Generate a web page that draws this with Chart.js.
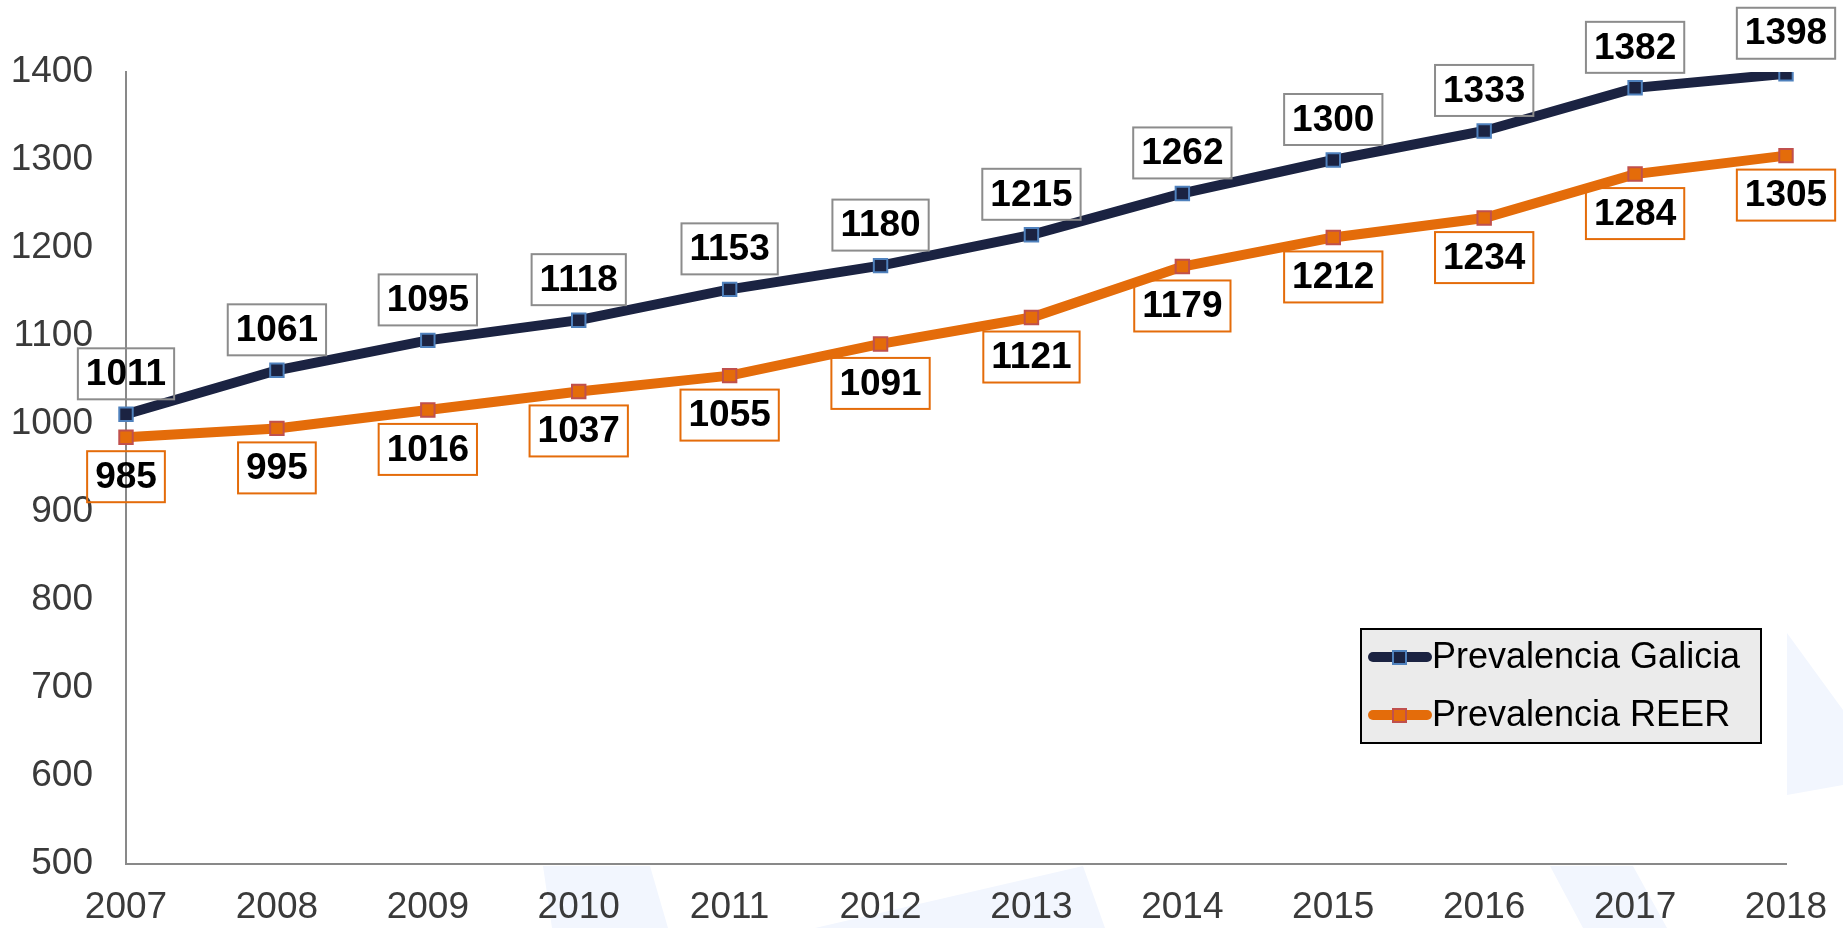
<!DOCTYPE html>
<html>
<head>
<meta charset="utf-8">
<script src="https://cdn.jsdelivr.net/npm/chart.js@4/dist/chart.umd.min.js"></script>
<style>
  html, body { margin: 0; padding: 0; background: #fff; }
  #chart { display: block; }
</style>
</head>
<body>
<canvas id="chart" width="1843" height="928"></canvas>
<script>
// Données
const years = ['2007', '2008', '2009', '2010', '2011', '2012', '2013', '2014', '2015', '2016', '2017', '2018'];
const galicia = [1011, 1061, 1095, 1118, 1153, 1180, 1215, 1262, 1300, 1333, 1382, 1398];
const reer = [985, 995, 1016, 1037, 1055, 1091, 1121, 1179, 1212, 1234, 1284, 1305];
const seriesNames = ['Prevalencia Galicia', 'Prevalencia REER'];
const yMin = 500;
const yMax = 1400;
const yStep = 100;

const navy = '#1B2342';
const orange = '#E46C0A';
const fontFamily = '"Liberation Sans", Arial, sans-serif';

// fond : filigrane bleu très clair
const watermark = {
    id: 'watermark',
    beforeDraw(chart) {
        const ctx = chart.ctx;
        const shapes = [
            [[1787, 633], [1843, 710], [1843, 785], [1787, 795]],
            [[543, 866], [650, 866], [668, 928], [552, 928]],
            [[1083, 866], [1105, 928], [815, 928]],
            [[1550, 866], [1633, 866], [1667, 928], [1583, 928]],
        ];
        ctx.save();
        ctx.fillStyle = '#F2F6FE';
        shapes.forEach(pts => {
            ctx.beginPath();
            pts.forEach(([x, y], i) => i ? ctx.lineTo(x, y) : ctx.moveTo(x, y));
            ctx.closePath();
            ctx.fill();
        });
        ctx.restore();
    }
};

// étiquettes encadrées au-dessus / en dessous des points
const boxedLabels = {
    id: 'boxedLabels',
    afterDatasetsDraw(chart) {
        const ctx = chart.ctx;
        ctx.save();
        ctx.font = 'bold 37px ' + fontFamily;
        ctx.textAlign = 'center';
        ctx.textBaseline = 'middle';
        chart.data.datasets.forEach((ds, di) => {
            const meta = chart.getDatasetMeta(di);
            const above = di === 0;
            meta.data.forEach((pt, i) => {
                const txt = String(ds.data[i]);
                const w = ctx.measureText(txt).width + 16;
                const h = 51;
                const top = above ? pt.y - 15 - h : pt.y + 14;
                ctx.lineWidth = 2;
                ctx.strokeStyle = above ? '#8C8C8C' : orange;
                ctx.strokeRect(pt.x - w / 2, top, w, h);
                ctx.fillStyle = '#000';
                ctx.fillText(txt, pt.x, top + h / 2 + 1);
            });
        });
        ctx.restore();
    }
};

// légende dans la zone du graphique
const boxLegend = {
    id: 'boxLegend',
    afterDraw(chart) {
        const ctx = chart.ctx;
        const x0 = 1361, y0 = 629, w = 400, h = 114;
        ctx.save();
        ctx.fillStyle = '#EBEBEB';
        ctx.fillRect(x0, y0, w, h);
        ctx.lineWidth = 2;
        ctx.strokeStyle = '#000';
        ctx.strokeRect(x0, y0, w, h);
        ctx.font = '36px ' + fontFamily;
        ctx.textBaseline = 'middle';
        chart.data.datasets.forEach((ds, i) => {
            const y = y0 + 28 + i * 58;
            ctx.lineCap = 'round';
            ctx.lineWidth = 10;
            ctx.strokeStyle = ds.borderColor;
            ctx.beginPath();
            ctx.moveTo(x0 + 12, y);
            ctx.lineTo(x0 + 66, y);
            ctx.stroke();
            ctx.fillStyle = ds.pointBackgroundColor;
            ctx.fillRect(x0 + 32, y - 6, 13, 13);
            ctx.lineWidth = 2;
            ctx.strokeStyle = ds.pointBorderColor;
            ctx.strokeRect(x0 + 32, y - 6, 13, 13);
            ctx.fillStyle = '#000';
            ctx.fillText(ds.label, x0 + 71, y + 1);
        });
        ctx.restore();
    }
};

new Chart(document.getElementById('chart'), {
    type: 'line',
    data: {
        labels: years,
        datasets: [{
            label: seriesNames[0],
            data: galicia,
            borderColor: navy,
            borderWidth: 10,
            pointStyle: 'rect',
            pointRadius: 9.5,
            pointBackgroundColor: navy,
            pointBorderColor: '#4F81BD',
            pointBorderWidth: 2,
            tension: 0,
        }, {
            label: seriesNames[1],
            data: reer,
            borderColor: orange,
            borderWidth: 10,
            pointStyle: 'rect',
            pointRadius: 9.5,
            pointBackgroundColor: orange,
            pointBorderColor: '#C0504D',
            pointBorderWidth: 2,
            tension: 0,
        }],
    },
    options: {
        responsive: false,
        animation: false,
        layout: { padding: { top: 72, right: 57, bottom: 0, left: 12 } },
        plugins: {
            legend: { display: false },
            tooltip: { enabled: false },
        },
        scales: {
            x: {
                offset: false,
                grid: { display: false, drawTicks: false },
                border: { display: true, color: '#898989', width: 2 },
                ticks: {
                    color: '#3A3A3A',
                    padding: 22,
                    maxRotation: 0,
                    font: { family: fontFamily, size: 37 },
                },
                afterFit: (scale) => {
                    scale.height = 64;
                    scale.paddingLeft = 0;
                    scale.paddingRight = 0;
                },
            },
            y: {
                min: yMin,
                max: yMax,
                grid: { display: false, drawTicks: false },
                border: { display: true, color: '#898989', width: 2 },
                ticks: {
                    stepSize: yStep,
                    color: '#3A3A3A',
                    padding: 33,
                    font: { family: fontFamily, size: 37 },
                    callback: (v) => String(v),
                },
                afterFit: (scale) => { scale.width = 114; },
            },
        },
    },
    plugins: [watermark, boxedLabels, boxLegend],
});
</script>
</body>
</html>
